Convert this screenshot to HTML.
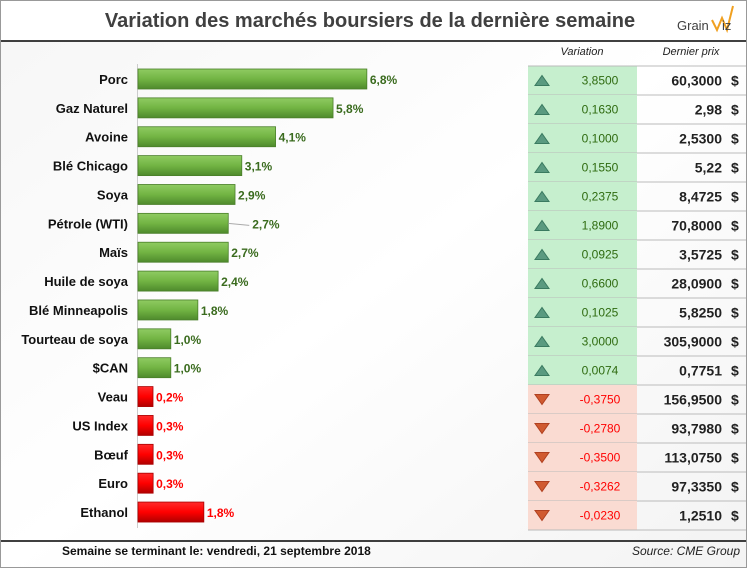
<!DOCTYPE html>
<html><head><meta charset="utf-8"><style>
body{margin:0;background:#fff}
svg{display:block;font-family:"Liberation Sans",sans-serif}
</style></head><body>
<svg id="c" width="747" height="568">
<defs>
<linearGradient id="bg" x1="0" y1="0" x2="1" y2="1"><stop offset="0" stop-color="#f6f6f6"/><stop offset="0.5" stop-color="#fff"/><stop offset="1" stop-color="#f3f3f3"/></linearGradient>
<linearGradient id="gg" x1="0" y1="0" x2="0" y2="1"><stop offset="0" stop-color="#8fcb62"/><stop offset="0.5" stop-color="#72b443"/><stop offset="1" stop-color="#4e8a2c"/></linearGradient>
<linearGradient id="rg" x1="0" y1="0" x2="0" y2="1"><stop offset="0" stop-color="#ff2a2a"/><stop offset="0.5" stop-color="#f00"/><stop offset="1" stop-color="#b00000"/></linearGradient>
</defs>
<rect x="0.5" y="0.5" width="746" height="567" fill="url(#bg)" stroke="#999"/>
<rect x="1" y="1" width="745" height="40" fill="#fff"/>
<text x="370" y="27" text-anchor="middle" font-size="20" font-weight="bold" fill="#404040">Variation des marchés boursiers de la dernière semaine</text>
<g><text x="677" y="30" font-size="13" fill="#404040">Grain</text><polyline points="712,20 717,30 722,18 727,30 733,6" fill="none" stroke="#f0a020" stroke-width="2"/><text x="722" y="30" font-size="13" fill="#404040">iz</text></g>
<line x1="1" y1="41" x2="746" y2="41" stroke="#000" stroke-width="1.5"/>
<text x="582" y="55" text-anchor="middle" font-size="11" font-style="italic" fill="#222">Variation</text>
<text x="691" y="55" text-anchor="middle" font-size="11" font-style="italic" fill="#222">Dernier prix</text>
<line x1="137.5" y1="64" x2="137.5" y2="528" stroke="#ccc"/>
<g id="bars"></g>
<g id="table"></g>
<line x1="1" y1="541" x2="746" y2="541" stroke="#000" stroke-width="1.5"/>
<text x="62" y="555" font-size="12" font-weight="bold" fill="#111">Semaine se terminant le:  vendredi, 21 septembre 2018</text>
<text x="740" y="555" text-anchor="end" font-size="12" font-style="italic" fill="#222">Source: CME Group</text>
</svg>
<script>
const categories=["Porc","Gaz Naturel","Avoine","Blé Chicago","Soya","Pétrole (WTI)","Maïs","Huile de soya","Blé Minneapolis","Tourteau de soya","$CAN","Veau","US Index","Bœuf","Euro","Ethanol"];
const pctValues=[6.8,5.8,4.1,3.1,2.9,2.7,2.7,2.4,1.8,1.0,1.0,-0.2,-0.3,-0.3,-0.3,-1.8];
const variations=["3,8500","0,1630","0,1000","0,1550","0,2375","1,8900","0,0925","0,6600","0,1025","3,0000","0,0074","-0,3750","-0,2780","-0,3500","-0,3262","-0,0230"];
const prices=["60,3000","2,98","2,5300","5,22","8,4725","70,8000","3,5725","28,0900","5,8250","305,9000","0,7751","156,9500","93,7980","113,0750","97,3350","1,2510"];
const NS="http://www.w3.org/2000/svg";
const x0=137,pxPer=33.8,y0=79,step=28.87;
const xs=v=>v>=0?x0+Math.max(v*pxPer,12):x0+Math.max(Math.abs(v)*pxPer+6,16);
const ys=i=>y0+i*step;
function mk(p,t,a){const e=document.createElementNS(NS,t);for(const k in a)e.setAttribute(k,a[k]);p.appendChild(e);return e;}
const bars=document.getElementById('bars'),tab=document.getElementById('table');
categories.forEach((c,i)=>{
 const v=pctValues[i],y=ys(i),pos=v>=0,col=pos?'#3a6b1e':'#f00';
 const lab=mk(bars,'text',{x:128,y:y+5,'text-anchor':'end','font-size':13,'font-weight':'bold',fill:'#111'});lab.textContent=c;
 
 
 const r=mk(bars,'rect',{x:x0+1,y:y-10,width:xs(v)-x0-1,height:20,fill:pos?'url(#gg)':'url(#rg)',stroke:pos?'#4a7f2a':'#a00','stroke-width':0.8});
 
 
 let lx=xs(v)+3;
 if(c==="Pétrole (WTI)"){lx=xs(v)+24;mk(bars,'line',{x1:xs(v),y1:y,x2:lx-3,y2:y+2,stroke:'#aaa'});}
 const vl=mk(bars,'text',{x:lx,y:y+5,'font-size':12,'font-weight':'bold',fill:col});vl.textContent=Math.abs(v).toFixed(1).replace('.',',')+'%';
 
 
 const ty=66+i*29;
 const cell=mk(tab,'rect',{x:528,y:ty,width:109,height:29,fill:pos?'#c6efce':'#fadbd2'});
 
 
 mk(tab,'line',{x1:528,y1:ty+29,x2:746,y2:ty+29,stroke:'#bbb'});
 if(i==0)mk(tab,'line',{x1:528,y1:ty,x2:746,y2:ty,stroke:'#bbb'});
 const cy=ty+14.5;
 mk(tab,'polygon',{points:pos?`535,${cy+5} 549,${cy+5} 542,${cy-5}`:`535,${cy-5} 549,${cy-5} 542,${cy+5}`,fill:pos?'#5a9a80':'#d05a30',stroke:pos?'#3a7a60':'#b04020'});
 const vt=mk(tab,'text',{x:600,y:cy+4,'text-anchor':'middle','font-size':12,fill:pos?'#2f6b10':'#f00'});vt.textContent=variations[i];
 
 
 const pt=mk(tab,'text',{x:722,y:cy+5,'text-anchor':'end','font-size':14,'font-weight':'bold',fill:'#222'});pt.textContent=prices[i];
 
 
 const d=mk(tab,'text',{x:731,y:cy+5,'font-size':14,'font-weight':'bold',fill:'#222'});d.textContent='$';
});
</script>
</body></html>
